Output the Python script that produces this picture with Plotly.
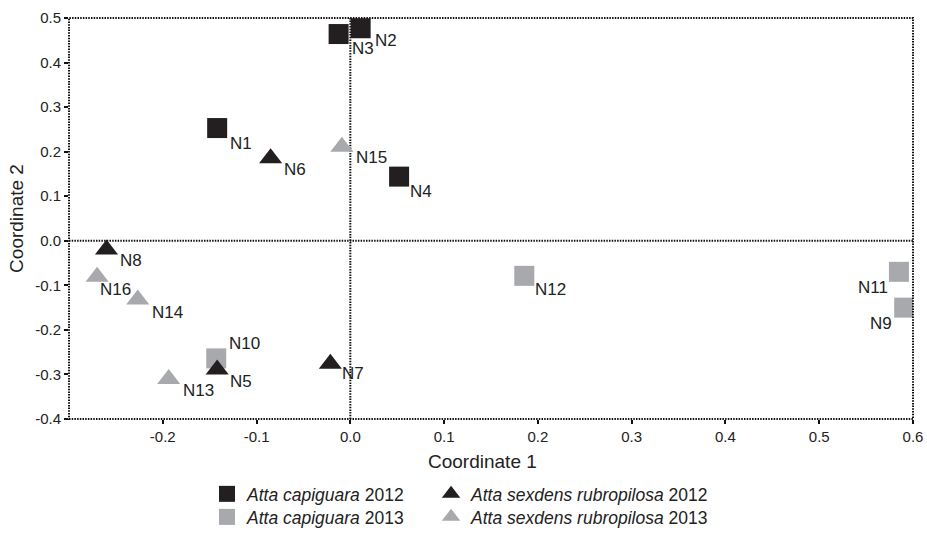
import plotly.graph_objects as go

# ---- data ----
cap2012_names = ["N1", "N2", "N3", "N4"]
cap2012_x = [-0.142, 0.011, -0.0125, 0.052]
cap2012_y = [0.253, 0.477, 0.464, 0.144]

cap2013_names = ["N9", "N10", "N11", "N12"]
cap2013_x = [0.5906, -0.143, 0.585, 0.1855]
cap2013_y = [-0.150, -0.264, -0.0697, -0.0787]

sex2012_names = ["N5", "N6", "N7", "N8"]
sex2012_x = [-0.142, -0.085, -0.0213, -0.260]
sex2012_y = [-0.289, 0.185, -0.276, -0.0198]

sex2013_names = ["N13", "N14", "N15", "N16"]
sex2013_x = [-0.1937, -0.2267, -0.009, -0.270]
sex2013_y = [-0.310, -0.132, 0.211, -0.081]

x_tickvals = [-0.2, -0.1, 0.0, 0.1, 0.2, 0.3, 0.4, 0.5, 0.6]
x_ticktext = ["-0.2", "-0.1", "0.0", "0.1", "0.2", "0.3", "0.4", "0.5", "0.6"]
y_tickvals = [-0.4, -0.3, -0.2, -0.1, 0.0, 0.1, 0.2, 0.3, 0.4, 0.5]
y_ticktext = ["-0.4", "-0.3", "-0.2", "-0.1", "0.0", "0.1", "0.2", "0.3", "0.4", "0.5"]

# ---- style ----
BLACK = "#231f20"
GRAY = "#a7a9ac"
FONT = "Liberation Sans, Arial, sans-serif"
TXT = "#222222"

# label offsets (pixels): dx, dy (down positive), anchor
label_style = {
    "N1": (11, 15, "left"), "N2": (12, 12, "left"), "N3": (11, 14, "left"),
    "N4": (9, 15, "left"), "N5": (11, 12, "left"), "N6": (11, 11, "left"),
    "N7": (10, 10, "left"), "N8": (11, 11, "left"), "N9": (-10, 16, "right"),
    "N10": (11, -15, "left"), "N11": (-9, 16, "right"), "N12": (9, 14, "left"),
    "N13": (12, 12, "left"), "N14": (12, 13, "left"), "N15": (12, 11, "left"),
    "N16": (1, 13, "left"),
}

fig = go.Figure()

series = [
    ("<i>Atta capiguara</i> 2012", cap2012_names, cap2012_x, cap2012_y, "square", BLACK, "legend"),
    ("<i>Atta capiguara</i> 2013", cap2013_names, cap2013_x, cap2013_y, "square", GRAY, "legend3"),
    ("<i>Atta sexdens rubropilosa</i> 2012", sex2012_names, sex2012_x, sex2012_y, "triangle-up", BLACK, "legend2"),
    ("<i>Atta sexdens rubropilosa</i> 2013", sex2013_names, sex2013_x, sex2013_y, "triangle-up", GRAY, "legend4"),
]

annotations = []
for name, names, xs, ys, sym, col, leg in series:
    fig.add_trace(go.Scatter(
        x=xs, y=ys, mode="markers", name=name, legend=leg,
        marker=dict(symbol=sym, size=20, color=col, line=dict(width=0)),
        hoverinfo="text", text=names,
    ))
    for n, xv, yv in zip(names, xs, ys):
        dx, dy, anc = label_style[n]
        annotations.append(dict(
            x=xv, y=yv, xref="x", yref="y", text=n, showarrow=False,
            xanchor=anc, yanchor="middle", xshift=dx, yshift=-dy,
            font=dict(family=FONT, size=17, color=TXT),
        ))

# x-axis title as annotation (slightly left of centre, as in the reference)
annotations.append(dict(
    text="Coordinate 1", xref="paper", yref="paper", x=0.4905, y=-0.107,
    xanchor="center", yanchor="middle", showarrow=False,
    font=dict(family=FONT, size=19, color=TXT),
))

DOT = "1.5px,1.2px"
shapes = [
    dict(type="line", xref="x", yref="y domain", x0=0, x1=0, y0=0, y1=1,
         line=dict(color="#111", width=2, dash=DOT), layer="below"),
    dict(type="line", xref="x domain", yref="y", x0=0, x1=1, y0=0, y1=0,
         line=dict(color="#111", width=2, dash=DOT), layer="below"),
    dict(type="rect", xref="paper", yref="paper", x0=0, x1=1, y0=0, y1=1,
         line=dict(color="#111", width=2, dash=DOT), layer="above"),
]


def legend_box(x, y):
    return dict(
        x=x, y=y, xanchor="left", yanchor="top",
        font=dict(family=FONT, size=17.5, color=TXT), bgcolor="rgba(0,0,0,0)",
        tracegroupgap=0, itemclick=False, itemdoubleclick=False,
    )


ROW1, ROW2 = -0.1421, -0.1995
COL1, COL2 = 0.1635, 0.429

fig.update_layout(
    width=927, height=534,
    margin=dict(l=69, r=14, t=18, b=115, autoexpand=False),
    paper_bgcolor="white", plot_bgcolor="white",
    font=dict(family=FONT, color=TXT),
    showlegend=True,
    shapes=shapes,
    annotations=annotations,
    xaxis=dict(
        range=[-0.3, 0.6], tickvals=x_tickvals, ticktext=x_ticktext,
        showgrid=False, zeroline=False, showline=False, automargin=False,
        ticks="outside", ticklen=4, tickwidth=1.5, tickcolor="#111",
        tickfont=dict(family=FONT, size=15, color=TXT),
    ),
    yaxis=dict(
        range=[-0.4, 0.5], tickvals=y_tickvals, ticktext=y_ticktext,
        showgrid=False, zeroline=False, showline=False, automargin=False,
        ticks="outside", ticklen=4, tickwidth=1.5, tickcolor="#111",
        tickfont=dict(family=FONT, size=15, color=TXT),
        title=dict(text="Coordinate 2", font=dict(family=FONT, size=19, color=TXT), standoff=6),
    ),
    legend=legend_box(COL1, ROW1),
    legend2=legend_box(COL2, ROW1),
    legend3=legend_box(COL1, ROW2),
    legend4=legend_box(COL2, ROW2),
)

fig.write_html("out.html", config={"displayModeBar": False},
               post_script="document.body.style.margin='0';")
